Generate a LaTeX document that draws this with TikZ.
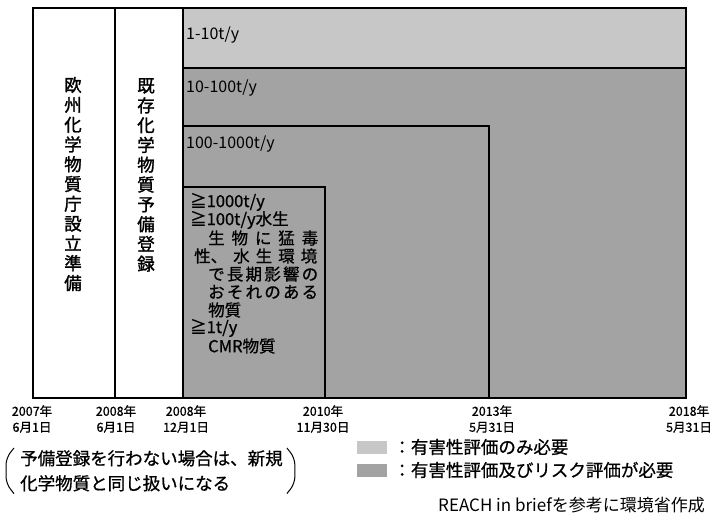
\documentclass[tikz,border=0pt]{standalone}
\usepackage{fontspec}
\setmainfont{Noto Sans CJK JP}
\newfontfamily\heavy{Noto Sans CJK JP}[FakeBold=1.5]
\newfontfamily\semi{Noto Sans CJK JP}[FakeBold=0.8]
\usetikzlibrary{calc}
\definecolor{lightfill}{gray}{0.78}
\definecolor{darkfill}{gray}{0.64}
\newcommand\fs[2]{\fontsize{#1}{#2}\selectfont}
\tikzset{
  frame/.style={line width=1.3pt, draw=black},
  vtext/.style={align=center, inner sep=0pt, font=\heavy\fs{17.5}{19.8}},
  rowlabel/.style={anchor=west, inner sep=0pt, font=\fs{16}{16}},
  boxline/.style={anchor=west, inner sep=0pt, font=\semi\fs{16.5}{18}},
  datelabel/.style={align=center, inner sep=0pt, font=\semi\fs{12.5}{16}},
  notetext/.style={align=left, inner sep=0pt, font=\semi\fs{17.5}{25}, anchor=north west},
  legtext/.style={anchor=west, inner sep=0pt, font=\semi\fs{17.5}{18}},
  swatch/.style={inner sep=0pt, minimum width=30pt, minimum height=13pt}
}
\newcommand\jl[2]{\makebox[#1][s]{#2}}
\begin{document}
\begin{tikzpicture}[x=1pt,y=-1pt]
\useasboundingbox (0,0) rectangle (712,522);
\fill[white] (0,0) rectangle (712,522);
% fills
\fill[lightfill] (183,8) rectangle (686,68);
\fill[darkfill] (183,68) rectangle (686,398);
% frames
\draw[frame] (33,8) rectangle (686,398);
\draw[frame] (115,8) -- (115,398);
\draw[frame] (183,8) -- (183,398);
\draw[frame] (183,68) -- (686,68);
\draw[frame] (183,126) -| (489,398);
\draw[frame] (183,187) -| (325,398);
% vertical texts
\node[vtext] (col1) at (73,184) {欧\\州\\化\\学\\物\\質\\庁\\設\\立\\準\\備};
\node[vtext] (col2) at (146,175) {既\\存\\化\\学\\物\\質\\予\\備\\登\\録};
% row labels
\node[rowlabel] (r1) at (186,35) {1-10t/y};
\node[rowlabel] (r2) at (186,88) {10-100t/y};
\node[rowlabel] (r3) at (186,144) {100-1000t/y};
% box text
\node[boxline] (b1) at (190,202) {≧1000t/y};
\node[boxline] (b2) at (190,220) {≧100t/y水生};
\node[boxline] (b3) at (208,238) {\jl{110pt}{生\hfill 物\hfill に\hfill 猛\hfill 毒}};
\node[boxline] (b4) at (194,256) {\jl{123pt}{性、\hfill 水\hfill 生\hfill 環\hfill 境}};
\node[boxline] (b5) at (208,274) {\jl{110pt}{で\hfill 長\hfill 期\hfill 影\hfill 響\hfill の}};
\node[boxline] (b6) at (208,292) {\jl{110pt}{お\hfill そ\hfill れ\hfill の\hfill あ\hfill る}};
\node[boxline] (b7) at (208,310) {物質};
\node[boxline] (b8) at (190,328) {≧1t/y};
\node[boxline] (b9) at (208,346) {CMR物質};
% dates
\node[datelabel] (d1) at (32,419) {2007年\\6月1日};
\node[datelabel] (d2) at (116,419) {2008年\\6月1日};
\node[datelabel] (d3) at (186,419) {2008年\\12月1日};
\node[datelabel] (d4) at (323,419) {2010年\\11月30日};
\node[datelabel] (d5) at (492,419) {2013年\\5月31日};
\node[datelabel] (d6) at (689,419) {2018年\\5月31日};
% note
\node[notetext] (note) at (20,450) {予備登録を行わない場合は、新規\\化学物質と同じ扱いになる};
\draw[line width=1pt, rounded corners=7pt] ($(note.north west)+(-6,-2)$) -- ($(note.north west)+(-14,8)$) -- ($(note.south west)+(-14,-8)$) -- ($(note.south west)+(-6,2)$);
\draw[line width=1pt, rounded corners=7pt] ($(note.north east)+(4,-2)$) -- ($(note.north east)+(12,8)$) -- ($(note.south east)+(12,-8)$) -- ($(note.south east)+(4,2)$);
% legend
\node[swatch, fill=lightfill] (s1) at (372,447) {};
\node[swatch, fill=darkfill] (s2) at (372,470) {};
\node[legtext] (l1) at ([xshift=6pt]s1.east) {：有害性評価のみ必要};
\node[legtext] (l2) at ([xshift=6pt]s2.east) {：有害性評価及びリスク評価が必要};
% source
\node[anchor=east, inner sep=0pt, font=\fs{17}{17}] (src) at (705,505) {REACH in briefを参考に環境省作成};
\end{tikzpicture}
\end{document}
